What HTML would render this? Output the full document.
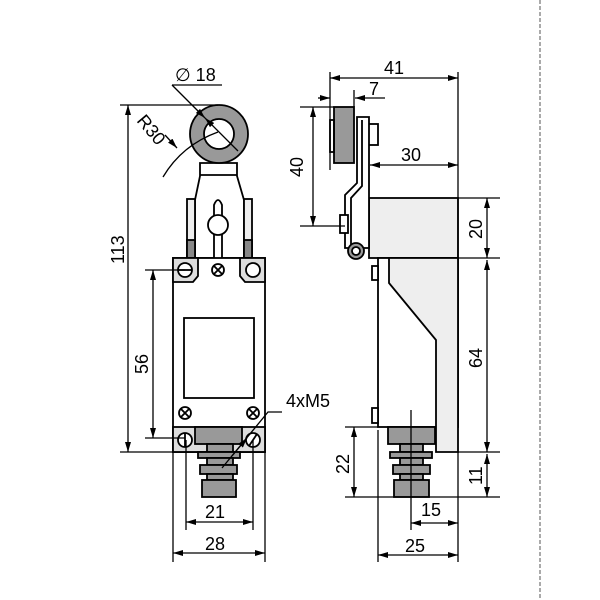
<!DOCTYPE html>
<html><head><style>body{margin:0;background:#fff}svg{display:block}</style></head><body>
<svg width="600" height="600" viewBox="0 0 600 600" xmlns="http://www.w3.org/2000/svg" font-family="Liberation Sans, sans-serif" font-size="18">
<defs>
<marker id="a" viewBox="0 0 10 6" refX="10" refY="3" markerWidth="10" markerHeight="6" markerUnits="userSpaceOnUse" orient="auto-start-reverse"><path d="M0,0L10,3L0,6z" fill="#000"/></marker>
</defs>
<line x1="540" y1="0" x2="540" y2="600" stroke="#555" stroke-dasharray="4,2"/>
<g stroke="#000" stroke-width="1.8" fill="none">
<path d="M200,163 L237,163 L237,176 L244,200 L244,258 L195,258 L195,200 L200,176 Z" fill="#fff"/>
<line x1="200" y1="175" x2="237" y2="175"/>
<rect x="187" y="199" width="8" height="59" fill="#eee"/>
<rect x="187" y="240" width="8" height="18" fill="#888"/>
<rect x="244" y="199" width="8" height="59" fill="#eee"/>
<rect x="244" y="240" width="8" height="18" fill="#888"/>
<path d="M214,258 L214,205 Q218,195 222,205 L222,258" fill="#fff"/>
<circle cx="218" cy="225" r="10" fill="#fff"/>
<circle cx="219" cy="134" r="29" fill="#999"/>
<circle cx="219" cy="134" r="15" fill="#fff"/>
<rect x="173" y="258" width="92" height="194" fill="#fff"/>
<path d="M173,258 H198 V276 L193,282 H173 Z" fill="#ddd"/>
<path d="M265,258 H240 V276 L245,282 H265 Z" fill="#ddd"/>
<circle cx="185" cy="270" r="7" fill="#fff"/><line x1="178" y1="270" x2="192" y2="270"/>
<circle cx="253" cy="270" r="7" fill="#fff"/>
<circle cx="218" cy="270" r="6"/><path d="M214,266l8,8M222,266l-8,8"/>
<rect x="184" y="318" width="70" height="80"/>
<circle cx="185" cy="413" r="6"/><path d="M181,409l8,8M189,409l-8,8"/>
<circle cx="253" cy="413" r="6"/><path d="M249,409l8,8M257,409l-8,8"/>
<rect x="173" y="427" width="92" height="25" fill="#ddd"/>
<rect x="195" y="427" width="47" height="17" fill="#999"/>
<circle cx="185" cy="440" r="7" fill="#fff"/><line x1="185" y1="433" x2="185" y2="447"/>
<circle cx="253" cy="440" r="7" fill="#fff"/><line x1="249" y1="446" x2="257" y2="434"/>
<rect x="207" y="444" width="26" height="8" fill="#999"/>
<rect x="198" y="452" width="42" height="6" fill="#999"/>
<rect x="207" y="458" width="26" height="7" fill="#999"/>
<rect x="200" y="465" width="37" height="9" fill="#999"/>
<rect x="207" y="474" width="26" height="6" fill="#999"/>
<rect x="202" y="480" width="34" height="17" fill="#999"/>
</g>
<g stroke="#000" stroke-width="1.3" fill="none">
<line x1="120" y1="105" x2="218" y2="105"/>
<line x1="120" y1="452" x2="265" y2="452"/>
<line x1="128" y1="105" x2="128" y2="452" marker-start="url(#a)" marker-end="url(#a)"/>
<line x1="145" y1="270" x2="185" y2="270"/>
<line x1="145" y1="438" x2="185" y2="438"/>
<line x1="153" y1="270" x2="153" y2="438" marker-start="url(#a)" marker-end="url(#a)"/>
<line x1="186" y1="440" x2="186" y2="530"/><line x1="253" y1="440" x2="253" y2="530"/>
<line x1="186" y1="522" x2="253" y2="522" marker-start="url(#a)" marker-end="url(#a)"/>
<line x1="173" y1="452" x2="173" y2="562"/><line x1="265" y1="452" x2="265" y2="562"/>
<line x1="173" y1="553" x2="265" y2="553" marker-start="url(#a)" marker-end="url(#a)"/>
<line x1="172" y1="85" x2="222" y2="85"/>
<line x1="172" y1="85" x2="205" y2="118" marker-end="url(#a)"/>
<line x1="205" y1="118" x2="238" y2="151" marker-start="url(#a)"/>
<path d="M163,177 Q182,145 218,132"/>
<line x1="165" y1="135" x2="177" y2="148" marker-end="url(#a)"/>
<polyline points="282,412 268,412 222,468"/>
<line x1="232" y1="456" x2="247" y2="438" marker-end="url(#a)"/>
</g>
<g fill="#000">
<text x="175" y="81">∅ 18</text>
<text transform="translate(136,121) rotate(50)">R30</text>
<text transform="translate(124,264) rotate(-90)">113</text>
<text transform="translate(148,374) rotate(-90)">56</text>
<text x="205" y="518">21</text>
<text x="205" y="550">28</text>
<text x="286" y="407">4xM5</text>
</g>
<g stroke="#000" stroke-width="1.8" fill="none">
<rect x="369" y="198" width="89" height="60" fill="#eee"/>
<rect x="378" y="258" width="80" height="169" fill="#fff"/>
<path d="M389,258 L458,258 L458,452 L436,452 L436,340 L389,283 Z" fill="#eee"/>
<rect x="372" y="266" width="6" height="14" fill="#fff"/>
<rect x="372" y="408" width="6" height="15" fill="#fff"/>
<rect x="334" y="107" width="20" height="56" fill="#999"/>
<rect x="330" y="120" width="4" height="32"/>
<rect x="368" y="124" width="10" height="21" fill="#fff"/>
<path d="M357,117 L369,117 L369,248 L345,248 L345,195 L357,183 Z" fill="#fff"/>
<path d="M362,120 L362,186 L351,198 L351,245"/>
<rect x="340" y="215" width="8" height="18" fill="#fff"/>
<circle cx="356" cy="251" r="8" fill="#999"/>
<circle cx="356" cy="251" r="4" fill="#fff"/>
<rect x="388" y="427" width="47" height="17" fill="#999"/>
<rect x="400" y="444" width="23" height="8" fill="#999"/>
<rect x="390" y="452" width="42" height="6" fill="#999"/>
<rect x="400" y="458" width="23" height="7" fill="#999"/>
<rect x="393" y="465" width="37" height="9" fill="#999"/>
<rect x="400" y="474" width="23" height="6" fill="#999"/>
<rect x="394" y="480" width="35" height="17" fill="#999"/>
</g>
<g stroke="#000" stroke-width="1.3" fill="none">
<line x1="411" y1="410" x2="411" y2="530"/>
<line x1="330" y1="72" x2="330" y2="170"/><line x1="458" y1="72" x2="458" y2="260"/>
<line x1="330" y1="78" x2="458" y2="78" marker-start="url(#a)" marker-end="url(#a)"/>
<line x1="354" y1="90" x2="354" y2="107"/>
<line x1="318" y1="98" x2="330" y2="98" marker-end="url(#a)"/>
<line x1="385" y1="98" x2="355" y2="98" marker-end="url(#a)"/>
<line x1="300" y1="107" x2="334" y2="107"/><line x1="300" y1="226" x2="345" y2="226"/>
<line x1="313" y1="107" x2="313" y2="226" marker-start="url(#a)" marker-end="url(#a)"/>
<line x1="370" y1="165" x2="458" y2="165" marker-start="url(#a)" marker-end="url(#a)"/>
<line x1="458" y1="198" x2="500" y2="198"/><line x1="458" y1="258" x2="500" y2="258"/>
<line x1="458" y1="452" x2="500" y2="452"/><line x1="345" y1="497" x2="500" y2="497"/>
<line x1="345" y1="427" x2="378" y2="427"/>
<line x1="487" y1="198" x2="487" y2="258" marker-start="url(#a)" marker-end="url(#a)"/>
<line x1="487" y1="260" x2="487" y2="452" marker-start="url(#a)" marker-end="url(#a)"/>
<line x1="487" y1="454" x2="487" y2="497" marker-start="url(#a)" marker-end="url(#a)"/>
<line x1="354" y1="427" x2="354" y2="497" marker-start="url(#a)" marker-end="url(#a)"/>
<line x1="378" y1="430" x2="378" y2="562"/><line x1="458" y1="452" x2="458" y2="562"/>
<line x1="411" y1="523" x2="458" y2="523" marker-start="url(#a)" marker-end="url(#a)"/>
<line x1="378" y1="555" x2="458" y2="555" marker-start="url(#a)" marker-end="url(#a)"/>
</g>
<g fill="#000">
<text x="384" y="74">41</text>
<text x="369" y="95">7</text>
<text transform="translate(303,177) rotate(-90)">40</text>
<text x="401" y="161">30</text>
<text transform="translate(482,239) rotate(-90)">20</text>
<text transform="translate(482,368) rotate(-90)">64</text>
<text transform="translate(482,485) rotate(-90)">11</text>
<text transform="translate(349,474) rotate(-90)">22</text>
<text x="421" y="516">15</text>
<text x="405" y="552">25</text>
</g>
</svg>
</body></html>
